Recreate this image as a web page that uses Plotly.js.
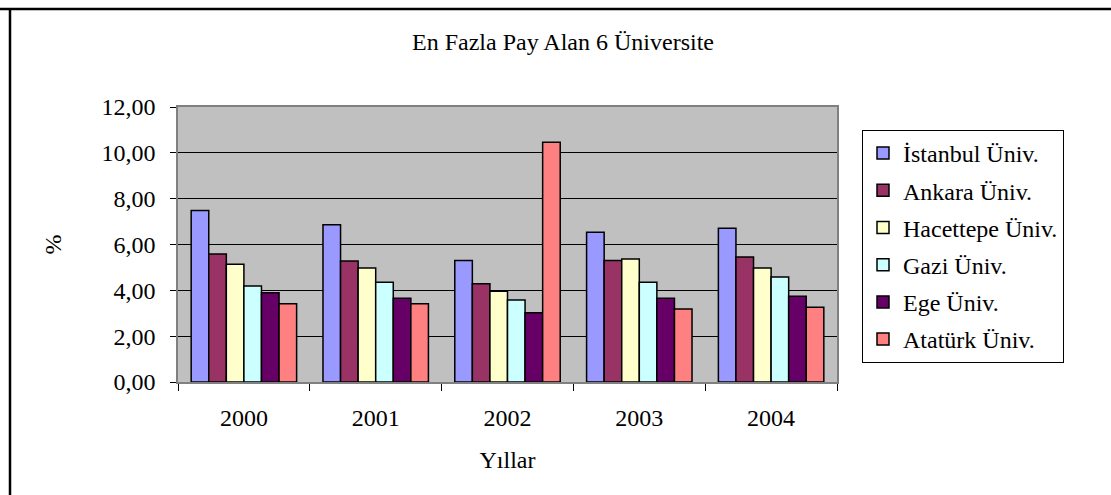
<!DOCTYPE html>
<html>
<head>
<meta charset="utf-8">
<script src="https://cdn.plot.ly/plotly-3.0.1.min.js"></script>
<style>html,body{margin:0;padding:0;background:#fff;}#chart{width:1111px;height:495px;}</style>
</head>
<body>
<div id="chart"></div>
<script>
const years = ["2000", "2001", "2002", "2003", "2004"];
const seriesNames = ["İstanbul Üniv.", "Ankara Üniv.", "Hacettepe Üniv.", "Gazi Üniv.", "Ege Üniv.", "Atatürk Üniv."];
const istanbul = [7.48, 6.86, 5.30, 6.54, 6.71];
const ankara = [5.59, 5.28, 4.29, 5.30, 5.46];
const hacettepe = [5.14, 4.98, 3.96, 5.37, 4.98];
const gazi = [4.19, 4.35, 3.58, 4.35, 4.58];
const ege = [3.90, 3.65, 3.02, 3.65, 3.74];
const ataturk = [3.41, 3.41, 10.46, 3.19, 3.26];
const yTickVals = [0, 2, 4, 6, 8, 10, 12];
const yTickText = ["0,00", "2,00", "4,00", "6,00", "8,00", "10,00", "12,00"];
const colors = ["#9999FF", "#993366", "#FFFFCC", "#CCFFFF", "#660066", "#FF8080"];

const allValues = [istanbul, ankara, hacettepe, gazi, ege, ataturk];
const FONT = "'Liberation Serif', 'Times New Roman', serif";
const FS = 24;

const traces = allValues.map((vals, i) => ({
  type: "bar",
  name: seriesNames[i],
  x: years,
  y: vals,
  legendgroup: "g" + i,
  marker: { color: colors[i], line: { color: "#000000", width: 1.5 } },
  hoverinfo: "x+y+name"
}));

const L = 178, R = 837, T = 107, B = 382, W = 1111, H = 495;
const px = v => (v - L) / (R - L);
const py = v => (B - v) / (B - T);

const layout = {
  width: W,
  height: H,
  paper_bgcolor: "#ffffff",
  plot_bgcolor: "#C0C0C0",
  margin: { l: L, r: W - R, t: T, b: H - B, pad: 0 },
  font: { family: FONT, color: "#000000", size: FS },
  title: {
    text: "En Fazla Pay Alan 6 Üniversite",
    font: { family: FONT, size: FS, color: "#000" },
    x: 563 / W, xanchor: "center", xref: "container",
    y: 1 - 42 / H, yanchor: "middle", yref: "container"
  },
  barmode: "group",
  bargap: 0.2,
  bargroupgap: 0,
  xaxis: {
    type: "category",
    tickson: "boundaries",
    ticks: "outside",
    ticklen: 7,
    tickcolor: "#000",
    tickwidth: 1,
    ticklabelstandoff: 13,
    showline: true,
    linecolor: "#808080",
    linewidth: 1.5,
    mirror: true,
    showgrid: false,
    tickfont: { family: FONT, size: FS, color: "#000" },
    title: { text: "Yıllar", font: { family: FONT, size: FS, color: "#000" }, standoff: 22 },
    fixedrange: true
  },
  yaxis: {
    range: [0, 12],
    tickvals: yTickVals,
    ticktext: yTickText,
    ticks: "outside",
    ticklen: 6,
    tickcolor: "#000",
    tickwidth: 1,
    ticklabelstandoff: 10,
    showline: true,
    linecolor: "#808080",
    linewidth: 1.5,
    mirror: true,
    showgrid: true,
    gridcolor: "#000000",
    gridwidth: 1,
    zeroline: true,
    zerolinecolor: "#000000",
    zerolinewidth: 1,
    tickfont: { family: FONT, size: FS, color: "#000" },
    title: { text: "%", font: { family: FONT, size: FS, color: "#000" }, standoff: 33 },
    fixedrange: true
  },
  legend: {
    x: px(862), xanchor: "left",
    y: py(130), yanchor: "top",
    bgcolor: "#ffffff",
    bordercolor: "#000000",
    borderwidth: 1,
    font: { family: FONT, size: FS, color: "#000" },
    traceorder: "grouped",
    tracegroupgap: 3
  },
  shapes: [
    { type: "line", xref: "paper", yref: "paper", x0: px(0), x1: px(W), y0: py(9), y1: py(9), line: { color: "#000", width: 2.5 } },
    { type: "line", xref: "paper", yref: "paper", x0: px(10), x1: px(10), y0: py(9), y1: py(H), line: { color: "#000", width: 2.5 } }
  ],
  showlegend: true
};

Plotly.newPlot("chart", traces, layout, { displayModeBar: false });
</script>
</body>
</html>
